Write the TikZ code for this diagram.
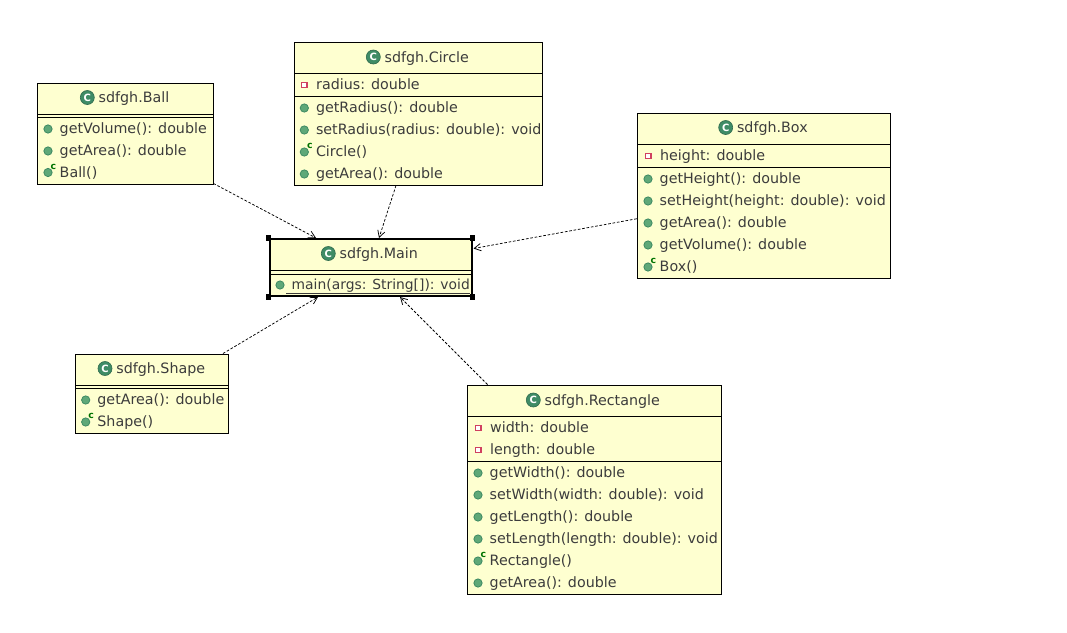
\documentclass[tikz,border=0pt]{standalone}
\usepackage{fontspec}
\setmainfont{DejaVu Sans}
\usepackage{tikz}
\usetikzlibrary{arrows.meta, positioning}

\definecolor{boxfill}{HTML}{FEFFD0}
\definecolor{inktext}{HTML}{3C3C3C}
\definecolor{icongreen}{HTML}{5FA878}
\definecolor{iconedge}{HTML}{3E8A63}
\definecolor{classgreen}{HTML}{3F8C66}
\definecolor{fieldred}{HTML}{D04060}

\newcommand{\memberfont}{\fontsize{10.7}{12}\selectfont}

% icon + text, text sits a fixed distance to the right of the icon
\newcommand{\methodrow}[4]{%
    \node[pubicon] (#1icon) at (#2,#3) {};
    \node[member, right=5.2pt of #1icon, yshift=-0.8pt] (#1) {#4};
}
\newcommand{\ctorrow}[4]{%
    \node[pubicon] (#1icon) at (#2,#3) {};
    \node[ctormark] at ([shift={(5.5,-6)}]#1icon.center) {c};
    \node[member, right=5.2pt of #1icon, yshift=-0.8pt] (#1) {#4};
}
\newcommand{\fieldrow}[4]{%
    \node[privicon] (#1icon) at (#2,#3) {};
    \node[member, right=6.2pt of #1icon, yshift=-0.8pt] (#1) {#4};
}
\newcommand{\titlerow}[4]{%
    \node[classicon] (#1icon) at (#2,#3) {C};
    \node[member, right=2.8pt of #1icon, yshift=-1.2pt] (#1) {#4};
}

\begin{document}
\begin{tikzpicture}[
            x=0.75pt, y=-0.75pt,
            classbox/.style={rectangle, draw=black, fill=boxfill, line width=0.75pt, inner sep=0pt},
            member/.style={inner sep=0pt, text=inktext, font=\memberfont, text height=8pt, text depth=2.5pt},
            pubicon/.style={circle, draw=iconedge, fill=icongreen, line width=0.6pt, minimum size=6.2pt, inner sep=0pt},
            ctormark/.style={inner sep=0pt, text=green!45!black, font=\fontsize{7}{7}\selectfont\bfseries},
            privicon/.style={rectangle, draw=fieldred, fill=white, line width=1pt, minimum size=4pt, inner sep=0pt},
            classicon/.style={circle, draw=iconedge!80!black, fill=classgreen, line width=0.5pt, minimum size=10.5pt, inner sep=0pt, text=white, font=\fontsize{7.5}{8}\selectfont\bfseries},
            handle/.style={rectangle, fill=black, minimum size=4pt, inner sep=0pt},
            sep/.style={line width=0.75pt},
            dep/.style={-{Straight Barb[length=5pt,width=5.5pt]}, line width=0.55pt, dash pattern=on 2pt off 1.3pt}
        ]
        \useasboundingbox (0,0) rectangle (1067,632);

        % class boxes
        \node[classbox, minimum width=132pt, minimum height=75.75pt] (ball) at (125,133.5) {};
        \node[classbox, minimum width=186pt, minimum height=107.25pt] (circle) at (418,113.5) {};
        \node[classbox, minimum width=189.75pt, minimum height=123.75pt] (box) at (763.75,195.75) {};
        \node[classbox, minimum width=114.75pt, minimum height=59.25pt] (shape) at (152,393.5) {};
        \node[classbox, minimum width=190.5pt, minimum height=156.75pt] (rect) at (594.5,489.5) {};
        \node[classbox, line width=1.5pt, minimum width=151.5pt, minimum height=42.75pt] (main) at (370.5,267.5) {};

        % separators
        \draw[sep] (37,114.5) -- (213,114.5) (37,117.5) -- (213,117.5);
        \draw[sep] (294,73) -- (542,73) (294,96) -- (542,96);
        \draw[sep] (637.5,144) -- (890.5,144) (637.5,167) -- (890.5,167);
        \draw[sep] (75.5,385) -- (228.5,385) (75.5,388) -- (228.5,388);
        \draw[sep] (467.5,416) -- (721.5,416) (467.5,461) -- (721.5,461);
        \draw[sep] (269,270) -- (472,270) (269,274) -- (472,274);
        \draw[line width=0.6pt, inktext] (286,293) -- (470,293);

        \foreach \corner in {north west, north east, south west, south east}
            \node[handle] at (main.\corner) {};

        % ball
        \titlerow{balltitle}{87.3}{97.5}{sdfgh.Ball}
        \methodrow{ballvolume}{48}{129}{getVolume(): double}
        \methodrow{ballarea}{48}{151}{getArea(): double}
        \ctorrow{ballctor}{48}{172.5}{Ball()}

        % circle
        \titlerow{circletitle}{373.3}{57}{sdfgh.Circle}
        \fieldrow{circleradius}{304.3}{85}{radius: double}
        \methodrow{circleget}{304.3}{108}{getRadius(): double}
        \methodrow{circleset}{304.3}{130}{setRadius(radius: double): void}
        \ctorrow{circlector}{304.3}{152}{Circle()}
        \methodrow{circlearea}{304.3}{174}{getArea(): double}

        % box
        \titlerow{boxtitle}{725.7}{127.5}{sdfgh.Box}
        \fieldrow{boxheight}{648.3}{156}{height: double}
        \methodrow{boxget}{648}{179}{getHeight(): double}
        \methodrow{boxset}{648}{201}{setHeight(height: double): void}
        \methodrow{boxarea}{648}{223}{getArea(): double}
        \methodrow{boxvolume}{648}{245}{getVolume(): double}
        \ctorrow{boxctor}{648}{267}{Box()}

        % shape
        \titlerow{shapetitle}{105}{368.5}{sdfgh.Shape}
        \methodrow{shapearea}{85.7}{400}{getArea(): double}
        \ctorrow{shapector}{85.7}{422}{Shape()}

        % rectangle
        \titlerow{recttitle}{533.3}{400}{sdfgh.Rectangle}
        \fieldrow{rectwidth}{478.3}{428}{width: double}
        \fieldrow{rectlength}{478.3}{450}{length: double}
        \methodrow{rectgetw}{478}{473}{getWidth(): double}
        \methodrow{rectsetw}{478}{495}{setWidth(width: double): void}
        \methodrow{rectgetl}{478}{517}{getLength(): double}
        \methodrow{rectsetl}{478}{539}{setLength(length: double): void}
        \ctorrow{rectctor}{478}{561}{Rectangle()}
        \methodrow{rectarea}{478}{583}{getArea(): double}

        % main
        \titlerow{maintitle}{328.3}{253.5}{sdfgh.Main}
        \methodrow{mainrun}{280}{285}{\fontsize{10.4}{12}\selectfont main(args: String[]): void}

        % dependencies
        \draw[dep] ([shift={(0,-1)}]ball.south east) -- ([shift={(-54.5,0)}]main.north);
        \draw[dep] ([shift={(-22,0)}]circle.south) -- ([shift={(8.5,0)}]main.north);
        \draw[dep] ([shift={(0,23)}]box.west) -- ([shift={(1,-19)}]main.east);
        \draw[dep] ([shift={(-6,0)}]shape.north east) -- ([shift={(-52.5,0)}]main.south);
        \draw[dep] ([shift={(-107,0)}]rect.north) -- ([shift={(29.5,0)}]main.south);

    \end{tikzpicture}
\end{document}
